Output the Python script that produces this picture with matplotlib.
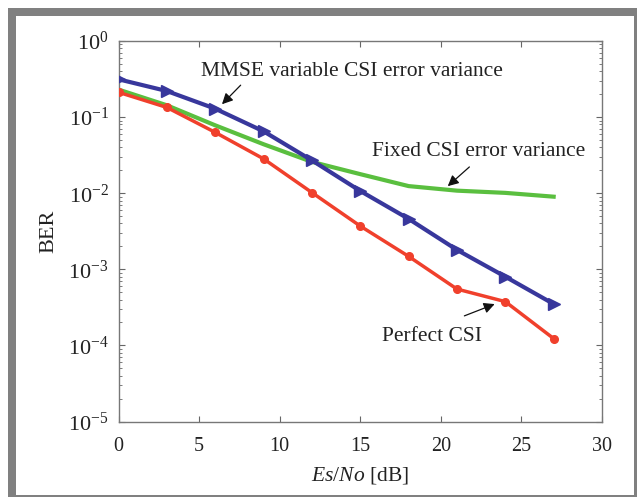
import matplotlib
matplotlib.use("Agg")
import matplotlib.pyplot as plt
from matplotlib.patches import Rectangle
from matplotlib.ticker import LogLocator, NullFormatter, FixedLocator

plt.rcParams['font.family'] = ['Liberation Serif', 'DejaVu Serif']
plt.rcParams['mathtext.fontset'] = 'custom'
plt.rcParams['mathtext.rm'] = 'Liberation Serif'
plt.rcParams['mathtext.it'] = 'Liberation Serif:italic'

snr = [0, 3, 6, 9, 12, 15, 18, 21, 24, 27]
ber_mmse = [0.314, 0.22, 0.129, 0.065, 0.027, 0.0107, 0.0046, 0.0018, 0.00080, 0.00035]
ber_perfect = [0.212, 0.134, 0.063, 0.0283, 0.0102, 0.0037, 0.00148, 0.00055, 0.000376, 0.000123]
ber_fixed = [0.23, 0.143, 0.078, 0.044, 0.0258, 0.0178, 0.0124, 0.0108, 0.0101, 0.0090]

W, H = 637, 497
fig = plt.figure(figsize=(W / 100, H / 100), dpi=100)

# gray frame
fig.add_artist(Rectangle((8 / W, 0), 1, 1 - 8 / H, transform=fig.transFigure,
                         facecolor='#808080', edgecolor='none', zorder=-10))
fig.add_artist(Rectangle((16 / W, 2 / H), (634 - 16) / W, (495 - 16) / H,
                         transform=fig.transFigure, facecolor='white',
                         edgecolor='none', zorder=-9))

ax = fig.add_axes([118.5 / W, 1 - 421.5 / H, (602 - 118.5) / W, (421.5 - 41) / H])
ax.set_facecolor('white')

ax.plot(snr, ber_fixed, color='#5abf3f', lw=3, zorder=2)
ax.plot(snr, ber_perfect, color='#f0402c', lw=2.5, marker='o', ms=5.5, zorder=3)
ax.plot(snr, ber_mmse, color='#38379c', lw=3, marker='>', ms=9, zorder=4)

ax.set_yscale('log')
ax.set_xlim(0, 30)
ax.set_ylim(1e-5, 1)
ax.xaxis.set_major_locator(FixedLocator([0, 5, 10, 15, 20, 25, 30]))
ax.yaxis.set_major_locator(LogLocator(base=10, numticks=10))
ax.yaxis.set_minor_locator(LogLocator(base=10, subs=range(2, 10), numticks=10))
ax.yaxis.set_minor_formatter(NullFormatter())
ax.tick_params(which='both', direction='in', top=True, right=True, colors='#666666',
               labelcolor='#222222')
ax.tick_params(which='major', length=4)
ax.tick_params(which='minor', length=2)
ax.tick_params(axis='x', pad=11, labelsize=14.5)
ax.tick_params(axis='y', pad=7, labelsize=16)
for s in ax.spines.values():
    s.set_color('#777777')
    s.set_linewidth(1.0)

ax.set_xlabel(r'$\mathit{Es/No}$ [dB]', fontsize=15.5, color='#222222', labelpad=7)
ax.set_ylabel('BER', fontsize=16, color='#222222', labelpad=7)

arrow = dict(arrowstyle='-|>', color='#111111', lw=0.9, mutation_scale=16)
ax.text(5.1, 0.40, 'MMSE variable CSI error variance', fontsize=15.5, color='#222222',
        ha='left', va='center')
ax.annotate('', xy=(6.3, 0.139), xytext=(7.7, 0.279), arrowprops=arrow)

ax.text(15.7, 0.0348, 'Fixed CSI error variance', fontsize=15.5, color='#222222',
        ha='left', va='center')
ax.annotate('', xy=(20.3, 0.0117), xytext=(21.9, 0.0234), arrowprops=arrow)

ax.text(16.35, 0.000129, 'Perfect CSI', fontsize=15.5, color='#222222',
        ha='left', va='center')
ax.annotate('', xy=(23.5, 0.00036), xytext=(21.3, 0.000237), arrowprops=arrow)

fig.savefig('out.png', dpi=100, facecolor='white')
